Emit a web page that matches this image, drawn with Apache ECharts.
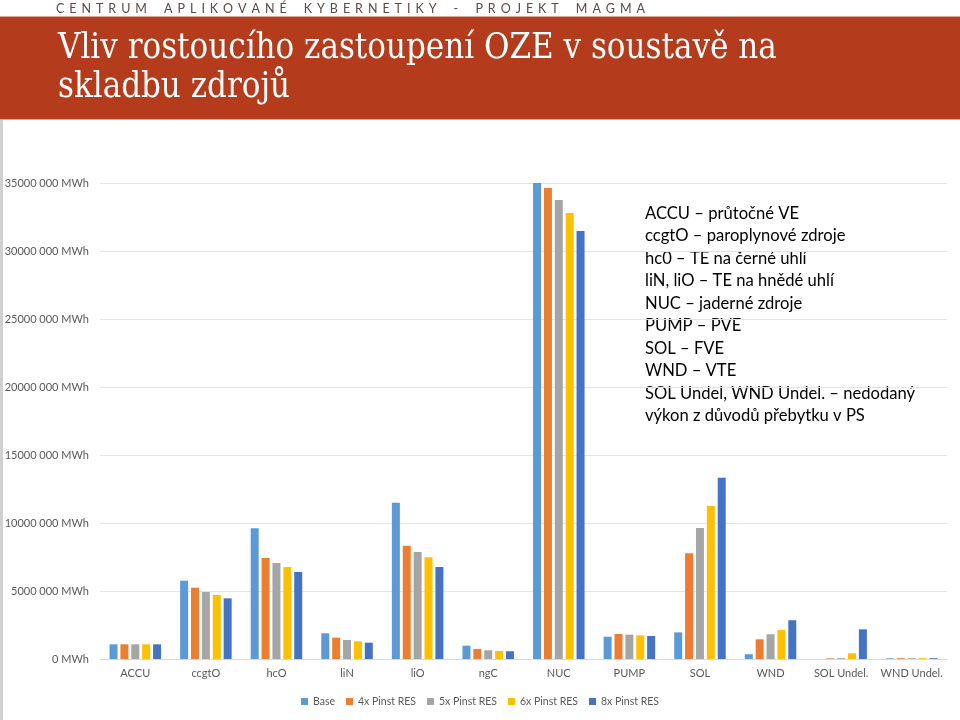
<!DOCTYPE html>
<html>
<head>
<meta charset="utf-8">
<script src="https://cdn.jsdelivr.net/npm/echarts@6/dist/echarts.min.js"></script>
<style>html,body{margin:0;padding:0;background:#fff}#c{width:960px;height:720px}</style>
</head>
<body>
<div id="c"></div>
<script>
const categories = ['ACCU','ccgtO','hcO','liN','liO','ngC','NUC','PUMP','SOL','WND','SOL Undel.','WND Undel.'];
const seriesNames = ['Base','4x Pinst RES','5x Pinst RES','6x Pinst RES','8x Pinst RES'];
const base   = [1080000,5760000,9610000,1890000,11490000,980000,35100000,1640000,1960000,350000,0,50000];
const x4     = [1080000,5240000,7430000,1570000,8330000,740000,34630000,1840000,7770000,1450000,50000,60000];
const x5     = [1080000,4930000,7060000,1400000,7870000,640000,33750000,1790000,9630000,1820000,60000,60000];
const x6     = [1080000,4710000,6760000,1300000,7480000,590000,32790000,1740000,11250000,2130000,420000,60000];
const x8     = [1080000,4460000,6400000,1200000,6760000,570000,31470000,1690000,13330000,2850000,2180000,60000];
const colors = ['#5B9BD5','#ED7D31','#A5A5A5','#FFC000','#4472C4'];
const noteLines = [
  'ACCU – průtočné VE',
  'ccgtO – paroplynové zdroje',
  'hc0 – TE na černé uhlí',
  'liN, liO – TE na hnědé uhlí',
  'NUC – jaderné zdroje',
  'PUMP – PVE',
  'SOL – FVE',
  'WND – VTE',
  'SOL Undel, WND Undel. – nedodaný',
  'výkon z důvodů přebytku v PS'
];
const headerText = 'CENTRUM APLIKOVANÉ KYBERNETIKY - PROJEKT MAGMA';
const titleLines = ['Vliv rostoucího zastoupení OZE v soustavě na','skladbu zdrojů'];

const allData = [base,x4,x5,x6,x8];
const chart = echarts.init(document.getElementById('c'));
const font = 'Lato, "Open Sans", sans-serif';

// letter-spaced header built from measured glyph widths
const hFont = '12.5px ' + font;
const cv = document.createElement('canvas').getContext('2d');
cv.font = hFont;
const chars = headerText.split('');
const widths = chars.map(ch => ch === ' ' ? cv.measureText(' ').width + 4 : cv.measureText(ch).width);
const hStart = 56, hEnd = 645;
const sumW = widths.reduce((a,b)=>a+b,0);
const sp = (hEnd - hStart - sumW) / (chars.length - 1);
let cx = hStart;
const headerEls = [];
chars.forEach((ch,i)=>{
  if (ch !== ' ') headerEls.push({type:'text', x:cx, y:2, style:{text:ch, fill:'#5b4a45', font:hFont}});
  cx += widths[i] + sp;
});

chart.setOption({
  animation:false,
  color: colors,
  grid:{left:100,right:13,top:183,bottom:61,containLabel:false},
  xAxis:{
    type:'category', data:categories,
    axisLine:{lineStyle:{color:'#d9d9d9'}},
    axisTick:{show:false},
    axisLabel:{color:'#595959',fontSize:11,fontFamily:font,margin:9,interval:0}
  },
  yAxis:{
    type:'value', min:0, max:35000000, interval:5000000,
    axisLine:{show:false}, axisTick:{show:false},
    splitLine:{lineStyle:{color:'#e3e3e3'}},
    axisLabel:{color:'#595959',fontSize:11,fontFamily:font,margin:11,
      formatter:v=> v===0 ? '0 MWh' : Math.round(v/1000)+' 000 MWh'}
  },
  legend:{
    bottom:8, left:'center', itemWidth:7, itemHeight:7, itemGap:11, icon:'rect',
    textStyle:{color:'#595959',fontSize:10.5,fontFamily:font}
  },
  series: seriesNames.map((n,i)=>({
    name:n, type:'bar', data:allData[i], barWidth:8, barGap:'36%'
  })),
  graphic:[
    {type:'rect',shape:{x:0,y:16,width:960,height:104},style:{fill:'#B43B1C'}},
    {type:'rect',shape:{x:0,y:16,width:960,height:1},style:{fill:'#d9a899'}},
    {type:'rect',shape:{x:0,y:119,width:960,height:1},style:{fill:'#d9a899'}},
    {type:'rect',shape:{x:0,y:120,width:3,height:600},style:{fill:'#d0d0d0'}},
    ...headerEls,
    {type:'text',left:58,top:30,style:{text:titleLines.join('\n'),fill:'#ffffff',font:'34.5px "DejaVu Serif Condensed", "DejaVu Serif", serif',lineHeight:39}},
    {type:'text',left:645,top:202,style:{text:noteLines.join('\n'),fill:'#000000',font:'16.6px '+font,lineHeight:22.5}}
  ]
});
</script>
</body>
</html>
